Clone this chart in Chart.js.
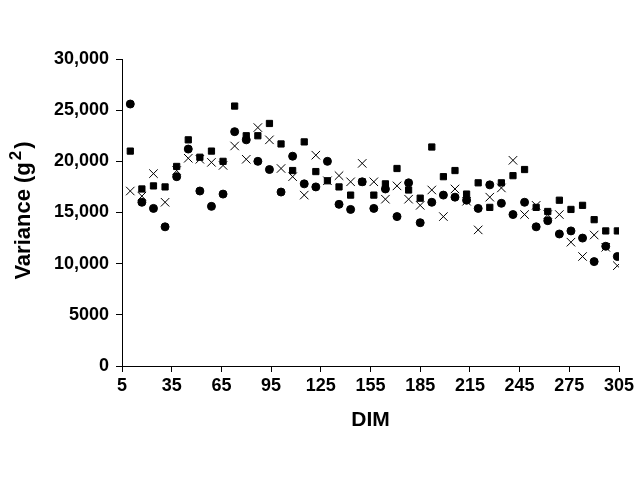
<!DOCTYPE html>
<html>
<head>
<meta charset="utf-8">
<script src="https://cdn.jsdelivr.net/npm/chart.js@4"></script>
<style>
  body { margin: 0; background: #fff; }
  #wrap { width: 640px; height: 480px; position: relative; }
</style>
</head>
<body>
<div id="wrap"><canvas id="varChart"></canvas></div>
<script>
// DIM values shared by all three series
const dim = [10, 17, 24, 31, 38, 45, 52, 59, 66, 73, 80, 87, 94, 101, 108, 115, 122, 129, 136, 143, 150,
             157, 164, 171, 178, 185, 192, 199, 206, 213, 220, 227, 234, 241, 248, 255, 262, 269, 276, 283,
             290, 297, 304];

// filled circles
const circleVals = [25600, 16000, 15400, 13600, 18500, 21200, 17100, 15600, 16800, 22900, 22100, 20000, 19200,
                    17000, 20500, 17800, 17500, 20000, 15800, 15300, 18000, 15400, 17300, 14600, 17900, 14000,
                    16000, 16700, 16500, 16200, 15400, 17700, 15900, 14800, 16000, 13600, 14200, 12900, 13200,
                    12500, 10200, 11700, 10700];

// filled squares
const squareVals = [21000, 17300, 17600, 17500, 19500, 22100, 20400, 21000, 20000, 25400, 22500, 22500, 23700,
                    21700, 19100, 21900, 19000, 18100, 17500, 16700, 18000, 16700, 17800, 19300, 17200, 16400,
                    21400, 18500, 19100, 16800, 17900, 15500, 17900, 18600, 19200, 15500, 15100, 16200, 15300,
                    15700, 14300, 13200, 13200];

// crosses
const crossVals = [17100, 16600, 18800, 16000, 19100, 20300, 20200, 19900, 19600, 21500, 20200, 23300, 22100,
                   19300, 18500, 16700, 20600, 18100, 18600, 18000, 19800, 18000, 16300, 17600, 16300, 15700,
                   17200, 14600, 17300, 16100, 13300, 16500, 17400, 20100, 14800, 15700, 14800, 14800, 12100,
                   10700, 12800, 11600, 9800];

const xTicks = [5, 35, 65, 95, 125, 155, 185, 215, 245, 275, 305];
const yTicks = [0, 5000, 10000, 15000, 20000, 25000, 30000];
const yTickLabels = ['0', '5000', '10,000', '15,000', '20,000', '25,000', '30,000'];

const toPoints = vals => vals.map((v, i) => ({ x: dim[i], y: v }));

// axis titles drawn by hand so the superscript in g² sits like the original
const axisTitles = {
    id: 'axisTitles',
    afterDraw(chart) {
        const ctx = chart.ctx;
        const area = chart.chartArea;
        ctx.save();
        ctx.fillStyle = '#000';
        ctx.textBaseline = 'alphabetic';

        // x title
        ctx.font = 'bold 21px "Liberation Sans", Arial, sans-serif';
        ctx.textAlign = 'center';
        ctx.fillText('DIM', (area.left + area.right) / 2, 426);

        // y title, rotated
        const main = 'Variance (g';
        const big = 'bold 22px "Liberation Sans", Arial, sans-serif';
        const small = 'bold 17px "Liberation Sans", Arial, sans-serif';
        ctx.font = big;
        const wMain = ctx.measureText(main).width;
        const wClose = ctx.measureText(')').width;
        ctx.font = small;
        const wSup = ctx.measureText('2').width;
        const total = wMain + wSup + 4 + wClose;

        ctx.translate(30, (area.top + area.bottom) / 2 - 2);
        ctx.rotate(-Math.PI / 2);
        ctx.textAlign = 'left';
        let x = -total / 2;
        ctx.font = big;
        ctx.fillText(main, x, 0);
        x += wMain + 2;
        ctx.font = small;
        ctx.fillText('2', x, -9);
        x += wSup + 2;
        ctx.font = big;
        ctx.fillText(')', x, 0);
        ctx.restore();
    }
};

const tickFont = { family: '"Liberation Sans", Arial, sans-serif', size: 18, weight: 'bold' };

new Chart(document.getElementById('varChart'), {
    type: 'scatter',
    data: {
        datasets: [
            {
                label: 'circles',
                data: toPoints(circleVals),
                pointStyle: 'circle',
                pointRadius: 4,
                backgroundColor: '#000',
                borderColor: '#000',
                borderWidth: 1
            },
            {
                label: 'squares',
                data: toPoints(squareVals),
                pointStyle: 'rect',
                pointRadius: 4.4,
                backgroundColor: '#000',
                borderColor: '#000',
                borderWidth: 1
            },
            {
                label: 'crosses',
                data: toPoints(crossVals),
                pointStyle: 'crossRot',
                pointRadius: 6,
                backgroundColor: '#000',
                borderColor: '#000',
                borderWidth: 1
            }
        ]
    },
    options: {
        responsive: true,
        maintainAspectRatio: false,
        animation: false,
        events: [],
        layout: { padding: { top: 59, right: 21, left: 0, bottom: 0 } },
        plugins: {
            legend: { display: false },
            tooltip: { enabled: false }
        },
        scales: {
            x: {
                type: 'linear',
                min: 5,
                max: 305,
                afterBuildTicks: scale => { scale.ticks = xTicks.map(v => ({ value: v })); },
                afterFit: scale => { scale.height = 114; },
                grid: { drawOnChartArea: false, drawTicks: true, tickLength: 6, color: '#000' },
                border: { color: '#000', width: 1 },
                ticks: { color: '#000', font: tickFont, padding: 3, maxRotation: 0, autoSkip: false }
            },
            y: {
                type: 'linear',
                min: 0,
                max: 30000,
                afterBuildTicks: scale => { scale.ticks = yTicks.map(v => ({ value: v })); },
                afterFit: scale => { scale.width = 122; },
                grid: { drawOnChartArea: false, drawTicks: true, tickLength: 6, color: '#000' },
                border: { color: '#000', width: 1 },
                ticks: {
                    color: '#000',
                    font: tickFont,
                    padding: 7,
                    autoSkip: false,
                    callback: v => yTickLabels[yTicks.indexOf(v)]
                }
            }
        }
    },
    plugins: [axisTitles]
});
</script>
</body>
</html>
